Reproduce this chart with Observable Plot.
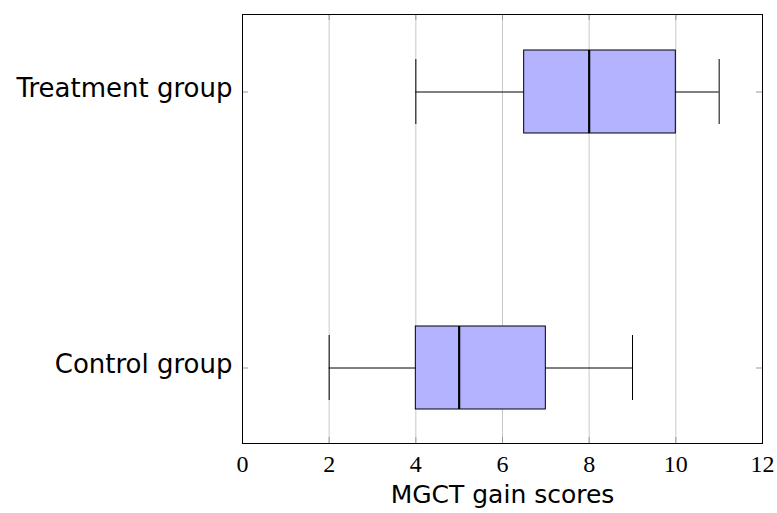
<!DOCTYPE html>
<html>
<head>
<meta charset="utf-8">
<script src="https://cdn.jsdelivr.net/npm/d3@7"></script>
<script src="https://cdn.jsdelivr.net/npm/@observablehq/plot@0.6"></script>
<style>
  html, body { margin: 0; padding: 0; background: white; }
  #chart svg { display: block; }
</style>
</head>
<body>
<div id="chart"></div>
<script>
const groups = ["Treatment group", "Control group"];
const whiskerLow = [4, 2];
const q1 = [6.5, 4];
const median = [8, 5];
const q3 = [10, 7];
const whiskerHigh = [11, 9];
const xTicks = [0, 2, 4, 6, 8, 10, 12];
const gridTicks = [2, 4, 6, 8, 10];
const xLabel = "MGCT gain scores";

const rows = groups.map((g, i) => ({
  group: g, lo: whiskerLow[i], q1: q1[i], med: median[i], q3: q3[i], hi: whiskerHigh[i]
}));

const W = 777, H = 513, ML = 242, MR = 15, MT = 14, MB = 70;
const frameW = W - ML - MR, frameH = H - MT - MB;
const sans = "'DejaVu Sans', 'Noto Sans', sans-serif";
const serif = "'Liberation Serif', 'DejaVu Serif', serif";

const chart = Plot.plot({
  width: W, height: H,
  marginLeft: ML, marginRight: MR, marginTop: MT, marginBottom: MB,
  style: { background: "white", overflow: "visible" },
  x: { domain: [0, 12] },
  y: { domain: groups, paddingInner: 0.6993, paddingOuter: 0.1268, align: 0.52 },
  marks: [
    Plot.gridX(gridTicks, { stroke: "#c8c8c8", strokeOpacity: 1 }),
    // inward ticks, bottom and top
    Plot.tickX(xTicks, { x: d => d, stroke: "#999", insetTop: frameH - 6 }),
    Plot.tickX(xTicks, { x: d => d, stroke: "#999", insetBottom: frameH - 6 }),
    // inward ticks, left and right
    Plot.tickY(groups, { y: d => d, stroke: "#999", insetRight: frameW - 6 }),
    Plot.tickY(groups, { y: d => d, stroke: "#999", insetLeft: frameW - 6 }),
    Plot.axisX(xTicks, { tickSize: 0, tickPadding: 11, fontSize: 24, fontFamily: serif, fill: "black", label: null }),
    Plot.axisY({ tickSize: 0, tickPadding: 10, fontSize: 26, fontFamily: sans, fill: "black", label: null, dy: -3 }),
    Plot.ruleY(rows, { y: "group", x1: "lo", x2: "hi", stroke: "black", strokeWidth: 1 }),
    Plot.barX(rows, { y: "group", x1: "q1", x2: "q3", fill: "#b3b3ff", stroke: "black", strokeWidth: 1 }),
    Plot.tickX(rows, { y: "group", x: "med", stroke: "black", strokeWidth: 2.2 }),
    Plot.tickX(rows, { y: "group", x: "lo", stroke: "black", strokeWidth: 1, insetTop: 9, insetBottom: 9 }),
    Plot.tickX(rows, { y: "group", x: "hi", stroke: "black", strokeWidth: 1, insetTop: 9, insetBottom: 9 }),
    Plot.frame({ stroke: "black", strokeWidth: 1 }),
    Plot.text([xLabel], { frameAnchor: "bottom", dy: 59, fontSize: 25, fontFamily: sans, fill: "black" })
  ]
});
document.getElementById("chart").appendChild(chart);
</script>
</body>
</html>
